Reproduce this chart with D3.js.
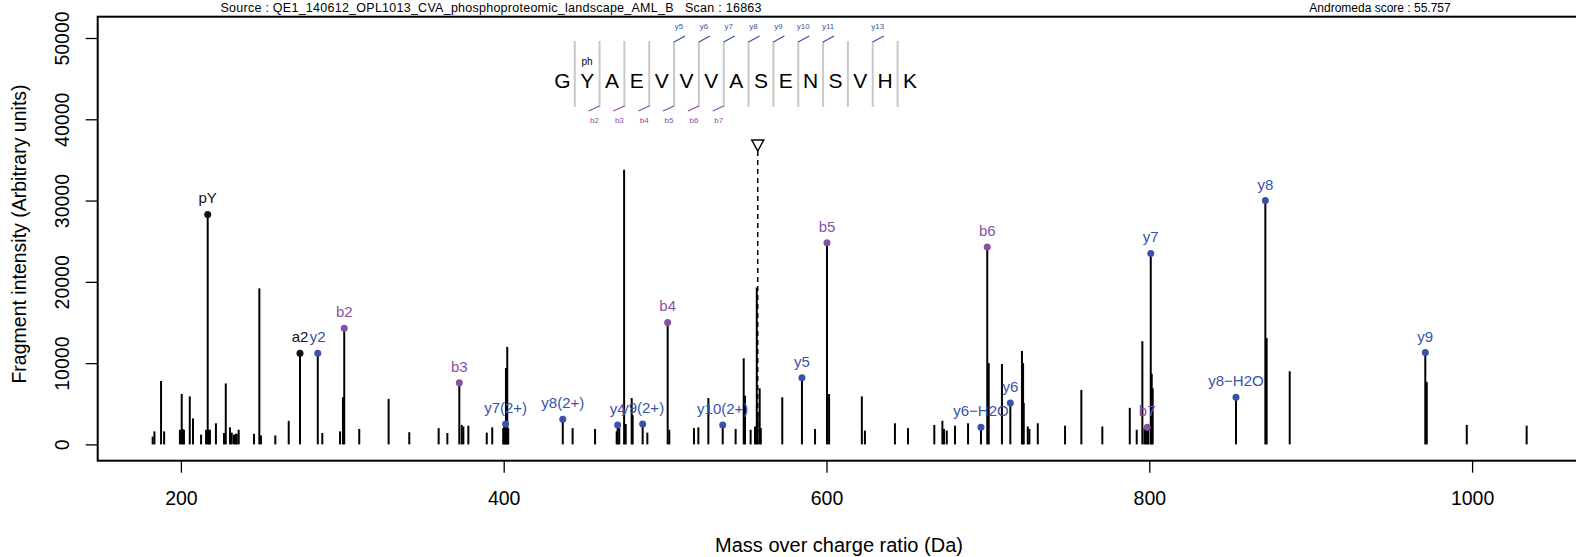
<!DOCTYPE html>
<html>
<head>
<meta charset="utf-8">
<script src="https://cdn.jsdelivr.net/npm/d3@7"></script>
<style>
  body { margin: 0; background: #fff; }
  svg { display: block; font-family: "Liberation Sans", Arial, sans-serif; }
</style>
</head>
<body>
<div id="chart"></div>
<script>
// spectrum peaks (m/z, intensity) that carry no annotation
const peakMz = [182.5, 183.6, 187.7, 189.6, 199.4, 200.5, 201.1, 201.9, 205.5, 207.5, 212.5, 215.6,
  217.4, 218.0, 221.7, 226.7, 227.8, 230.4, 231.5, 232.9, 234.1, 234.6, 235.8, 245.3, 248.6, 249.6,
  258.5, 266.8, 287.6, 298.6, 300.4, 310.5, 328.7, 341.5, 359.7, 365.1, 374.0, 375.0, 378.1, 389.5,
  392.9, 399.7, 400.3, 401.4, 402.2, 402.8, 442.7, 456.6, 470.0, 471.6, 474.6, 475.6, 479.3, 479.9,
  489.0, 502.6, 517.9, 520.6, 526.8, 543.7, 548.7, 549.5, 553.0, 555.7, 556.8, 557.3, 558.6, 559.3,
  572.6, 592.9, 601.6, 621.9, 623.8, 642.4, 650.5, 666.8, 671.8, 672.8, 674.5, 679.6, 687.7, 700.5,
  708.7, 721.1, 721.8, 722.2, 724.7, 725.7, 730.9, 747.8, 757.9, 770.9, 787.9, 792.2, 795.7, 797.0,
  797.9, 799.4, 801.5, 802.1, 872.7, 887.0, 971.9, 996.7, 1033.8];
const peakInt = [960, 1600, 7800, 1600, 1800, 6200, 1900, 1800, 5900, 3200, 1200, 1800,
  1800, 1800, 2600, 1400, 7500, 2100, 1450, 1200, 1300, 1300, 1800, 1300, 19200, 1100,
  1100, 2900, 1400, 1600, 5800, 1900, 5600, 1500, 2000, 1400, 2400, 2200, 2300, 1450,
  2100, 2000, 2500, 9400, 12000, 2000, 2000, 1900, 1600, 2000, 33800, 2500, 5700, 3600,
  1450, 1800, 2000, 2100, 5700, 1900, 10600, 6000, 1800, 2200, 19300, 4000, 6900, 2000,
  5800, 1900, 6200, 5900, 1700, 2600, 2000, 2400, 2900, 1900, 1700, 2300, 2600, 10000,
  9900, 11500, 10000, 5100, 2200, 1900, 2600, 2300, 6700, 2200, 4500, 1800, 12700, 2000,
  2000, 2000, 8700, 6900, 13100, 9000, 7700, 2400, 2300];

// annotated fragment ions
const ionLabel = ["pY", "a2", "y2", "b2", "b3", "y7(2+)", "y8(2+)", "y4", "y9(2+)", "b4", "y10(2+)",
  "y5", "b5", "y6\u2212H2O", "b6", "y6", "b7", "y7", "y8\u2212H2O", "y8", "y9"];
const ionMz = [216.6, 273.8, 284.8, 301.2, 372.5, 401.2, 436.6, 470.6, 486.1, 501.6, 535.7,
  584.8, 600.3, 695.7, 699.6, 713.9, 798.7, 800.9, 853.7, 871.9, 971.0];
const ionInt = [28300, 11200, 11200, 14300, 7600, 2500, 3100, 2400, 2500, 15000, 2400,
  8200, 24800, 2100, 24300, 5100, 2100, 23500, 5800, 30000, 11300];
const ionType = ["other", "other", "y", "b", "b", "y", "y", "y", "y", "b", "y",
  "y", "b", "y", "b", "y", "b", "y", "y", "y", "y"];

// peptide sequence and fragment coverage
const residues = ["G", "Y", "A", "E", "V", "V", "V", "A", "S", "E", "N", "S", "V", "H", "K"];
const bCut = [1, 2, 3, 4, 5, 6];
const bCutLabel = ["b2", "b3", "b4", "b5", "b6", "b7"];
const yCut = [4, 5, 6, 7, 8, 9, 10, 12];
const yCutLabel = ["y5", "y6", "y7", "y8", "y9", "y10", "y11", "y13"];

const precursorMz = 557.4;
const xTicks = [200, 400, 600, 800, 1000];
const yTicks = [0, 10000, 20000, 30000, 40000, 50000];

const sourceText = "Source : QE1_140612_OPL1013_CVA_phosphoproteomic_landscape_AML_B   Scan : 16863";
const scoreText = "Andromeda score : 55.757";

const colors = { b: "#8a4fa5", y: "#3953a8", other: "#111111" };

const width = 1576, height = 557;
const box = { left: 97.7, top: 16.7, bottom: 460.7, right: 1600 };

const svg = d3.select("#chart").append("svg")
  .attr("width", width).attr("height", height);

const x = d3.scaleLinear().domain([200, 1000]).range([180.9, 1472.1]);
const y = d3.scaleLinear().domain([0, 50000]).range([444.4, 38]);

// plot frame
svg.append("rect")
  .attr("x", box.left).attr("y", box.top)
  .attr("width", box.right - box.left).attr("height", box.bottom - box.top)
  .attr("fill", "none").attr("stroke", "#000").attr("stroke-width", 2);

// header
svg.append("text").attr("x", 491).attr("y", 11.5)
  .attr("text-anchor", "middle").style("font-size", "12.5px")
  .attr("textLength", 541).attr("lengthAdjust", "spacing")
  .attr("xml:space", "preserve").text(sourceText);
svg.append("text").attr("x", 1380).attr("y", 11.5)
  .attr("text-anchor", "middle").style("font-size", "12px").text(scoreText);

// axes
const xAxis = svg.append("g")
  .attr("transform", `translate(0,${box.bottom})`)
  .call(d3.axisBottom(x).tickValues(xTicks).tickSize(12).tickPadding(18).tickFormat(d3.format("d")));
xAxis.select(".domain").remove();
xAxis.selectAll("line").attr("stroke-width", 1.3);
xAxis.selectAll("text").style("font-size", "19.5px").attr("fill", "#000");

const yAxis = svg.append("g")
  .attr("transform", `translate(${box.left},0)`)
  .call(d3.axisLeft(y).tickValues(yTicks).tickSize(12).tickFormat(d3.format("d")));
yAxis.select(".domain").remove();
yAxis.selectAll("line").attr("stroke-width", 1.3);
yAxis.selectAll("text")
  .attr("x", null).attr("dy", null)
  .attr("transform", "translate(-34,0) rotate(-90)")
  .attr("text-anchor", "middle")
  .attr("dominant-baseline", "middle")
  .style("font-size", "19.5px").attr("fill", "#000");

svg.append("text").attr("x", 839).attr("y", 552)
  .attr("text-anchor", "middle").style("font-size", "20px")
  .text("Mass over charge ratio (Da)");
svg.append("text")
  .attr("transform", "translate(26,234) rotate(-90)")
  .attr("text-anchor", "middle").style("font-size", "19.5px")
  .text("Fragment intensity (Arbitrary units)");

// precursor marker
const px = x(precursorMz);
svg.append("line")
  .attr("x1", px).attr("x2", px).attr("y1", 151).attr("y2", y(0))
  .attr("stroke", "#000").attr("stroke-width", 1.5).attr("stroke-dasharray", "5,4");
svg.append("path")
  .attr("d", `M${px - 6},140 L${px + 6},140 L${px},151 Z`)
  .attr("fill", "#fff").attr("stroke", "#000").attr("stroke-width", 1.5);

// unannotated peaks
svg.append("g").selectAll("line")
  .data(peakMz.map((m, i) => ({ m, v: peakInt[i] })))
  .join("line")
  .attr("x1", d => x(d.m)).attr("x2", d => x(d.m))
  .attr("y1", y(0)).attr("y2", d => y(d.v))
  .attr("stroke", "#000").attr("stroke-width", 2);

// annotated peaks
const ions = ionLabel.map((l, i) => ({ l, m: ionMz[i], v: ionInt[i], t: ionType[i] }));
svg.append("g").selectAll("line")
  .data(ions).join("line")
  .attr("x1", d => x(d.m)).attr("x2", d => x(d.m))
  .attr("y1", y(0)).attr("y2", d => y(d.v))
  .attr("stroke", "#000").attr("stroke-width", 2);
svg.append("g").selectAll("circle")
  .data(ions).join("circle")
  .attr("cx", d => x(d.m)).attr("cy", d => y(d.v)).attr("r", 3.5)
  .attr("fill", d => colors[d.t]);
svg.append("g").selectAll("text")
  .data(ions).join("text")
  .attr("x", d => x(d.m)).attr("y", d => y(d.v) - 11)
  .attr("text-anchor", "middle").style("font-size", "15px")
  .attr("fill", d => colors[d.t])
  .text(d => d.l);

// peptide sequence with fragment coverage
const r = d3.scaleLinear().domain([0, residues.length - 1]).range([562.3, 910]);
const seq = svg.append("g");
seq.selectAll("line.div")
  .data(d3.range(residues.length - 1)).join("line")
  .attr("class", "div")
  .attr("x1", i => r(i + 0.5)).attr("x2", i => r(i + 0.5))
  .attr("y1", 41).attr("y2", 107)
  .attr("stroke", "#c8c8c8").attr("stroke-width", 2);
seq.selectAll("text.res")
  .data(residues).join("text")
  .attr("class", "res")
  .attr("x", (d, i) => r(i)).attr("y", 88)
  .attr("text-anchor", "middle").style("font-size", "21px")
  .text(d => d);
seq.append("text").attr("x", r(1)).attr("y", 65)
  .attr("text-anchor", "middle").style("font-size", "10px").text("ph");

seq.selectAll("line.b")
  .data(bCut).join("line").attr("class", "b")
  .attr("x1", i => r(i + 0.5) - 11).attr("x2", i => r(i + 0.5))
  .attr("y1", 111).attr("y2", 106)
  .attr("stroke", colors.b).attr("stroke-width", 1.3);
seq.selectAll("text.b")
  .data(bCut).join("text").attr("class", "b")
  .attr("x", i => r(i + 0.5) - 5).attr("y", 123)
  .attr("text-anchor", "middle").style("font-size", "8px")
  .attr("fill", colors.b)
  .text((d, i) => bCutLabel[i]);

seq.selectAll("line.y")
  .data(yCut).join("line").attr("class", "y")
  .attr("x1", i => r(i + 0.5)).attr("x2", i => r(i + 0.5) + 11)
  .attr("y1", 42).attr("y2", 36)
  .attr("stroke", colors.y).attr("stroke-width", 1.3);
seq.selectAll("text.y")
  .data(yCut).join("text").attr("class", "y")
  .attr("x", i => r(i + 0.5) + 5).attr("y", 29)
  .attr("text-anchor", "middle").style("font-size", "8px")
  .attr("fill", colors.y)
  .text((d, i) => yCutLabel[i]);
</script>
</body>
</html>
